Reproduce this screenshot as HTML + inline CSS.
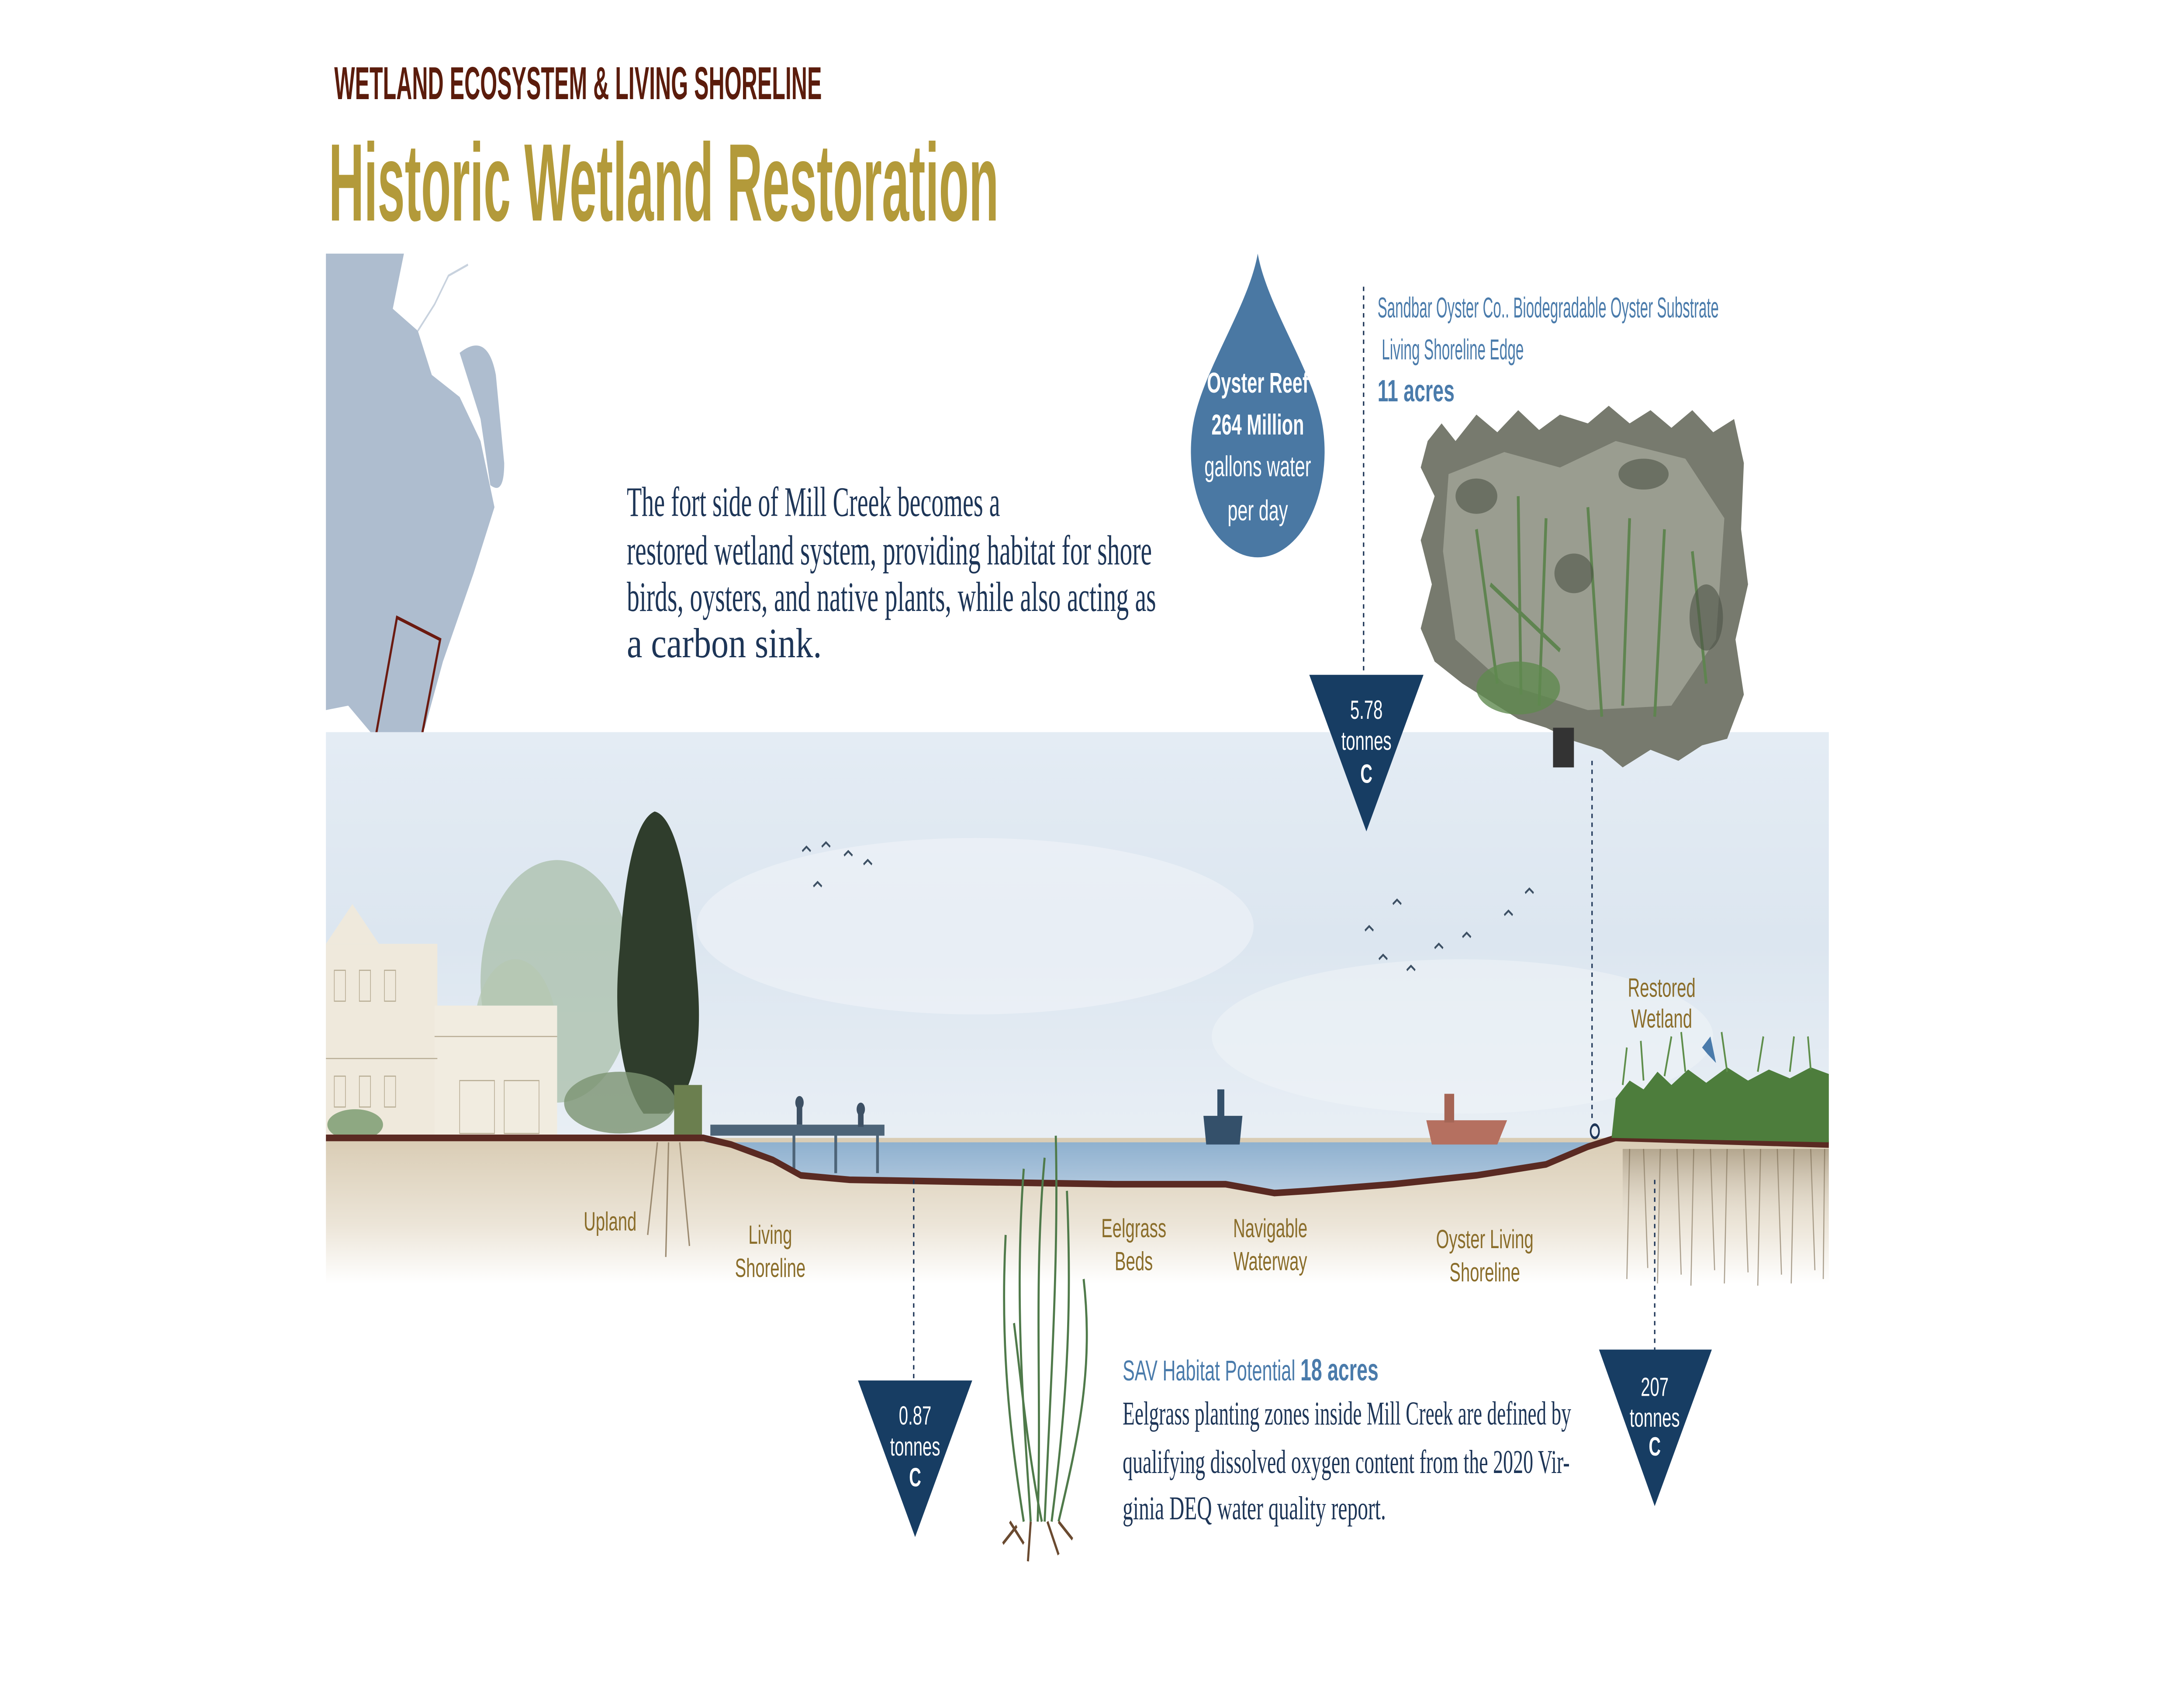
<!DOCTYPE html>
<html><head><meta charset="utf-8"><style>
html,body{margin:0;padding:0;background:#fff;width:100%;height:100%;overflow:hidden;}
svg{display:block;width:100vw;height:100vh;position:absolute;left:0;top:0;}
.cond{font-family:"Liberation Sans Narrow","Liberation Sans",sans-serif;}
.ser{font-family:"Liberation Serif",serif;}
</style></head><body>
<svg viewBox="0 0 1568 765" preserveAspectRatio="none" xmlns="http://www.w3.org/2000/svg">
<defs>
<linearGradient id="sky" x1="0" y1="0" x2="0" y2="1">
<stop offset="0" stop-color="#e4ecf4"/><stop offset="0.5" stop-color="#dce6f0"/><stop offset="1" stop-color="#e9eff5"/>
</linearGradient>
<linearGradient id="soil" x1="0" y1="0" x2="0" y2="1">
<stop offset="0" stop-color="#d9ccb4"/><stop offset="0.6" stop-color="#ece5d8"/><stop offset="1" stop-color="#ffffff"/>
</linearGradient>
<linearGradient id="water" x1="0" y1="0" x2="0" y2="1">
<stop offset="0" stop-color="#8fb1cf"/><stop offset="1" stop-color="#b5cbe0"/>
</linearGradient>
<linearGradient id="roots" x1="0" y1="0" x2="0" y2="1">
<stop offset="0" stop-color="#6a5a40"/><stop offset="1" stop-color="#ffffff" stop-opacity="0"/>
</linearGradient>
</defs>

<text x="240" y="45" class="cond" font-size="21" font-weight="bold" fill="#5b1c0c" textLength="350" lengthAdjust="spacingAndGlyphs">WETLAND ECOSYSTEM &amp; LIVING SHORELINE</text>
<text x="236" y="100" class="cond" font-size="50" font-weight="bold" fill="#b39a3a" textLength="481" lengthAdjust="spacingAndGlyphs">Historic Wetland Restoration</text>

<path d="M234 115 L290 115 L282 140 L300 150 L310 170 L330 180 L345 200 L355 230 L340 260 L318 300 L305 330 L290 345 L270 335 L250 320 L234 322 Z" fill="#aebdcf"/>
<path d="M336 120 L322 125 L312 138 L300 150" fill="none" stroke="#c8d2de" stroke-width="1"/>
<path d="M330 160 Q350 150 356 170 L362 210 Q362 225 352 220 L345 190 Z" fill="#aebdcf"/>
<polygon points="285,280 316,290 300,343 270,333" fill="none" stroke="#6b1a10" stroke-width="1.5"/>

<g class="ser" font-size="19" fill="#1d3557">
<text x="450" y="234" textLength="268" lengthAdjust="spacingAndGlyphs">The fort side of Mill Creek becomes a</text>
<text x="450" y="256" textLength="377" lengthAdjust="spacingAndGlyphs">restored wetland system, providing habitat for shore</text>
<text x="450" y="277" textLength="380" lengthAdjust="spacingAndGlyphs">birds, oysters, and native plants, while also acting as</text>
<text x="450" y="298" textLength="140" lengthAdjust="spacingAndGlyphs">a carbon sink.</text>
</g>

<path d="M903 115 C910 140 945 170 950 195 A48 48 0 1 1 856 195 C861 170 896 140 903 115 Z" fill="#4a78a3"/>
<g class="cond" font-size="13" fill="#fff" text-anchor="middle">
<text x="903" y="178" font-weight="bold">Oyster Reef</text>
<text x="903" y="197" font-weight="bold">264 Million</text>
<text x="903" y="216">gallons water</text>
<text x="903" y="236">per day</text>
</g>

<line x1="979" y1="130" x2="979" y2="306" stroke="#1d3557" stroke-width="1" stroke-dasharray="2,2"/>
<g class="cond" font-size="13" fill="#4a7bab">
<text x="989" y="144" textLength="245" lengthAdjust="spacingAndGlyphs">Sandbar Oyster Co.. Biodegradable Oyster Substrate</text>
<text x="992" y="163" textLength="102" lengthAdjust="spacingAndGlyphs">Living Shoreline Edge</text>
<text x="989" y="182" font-weight="bold" font-size="14">11 acres</text>
</g>

<rect x="234" y="332" width="1079" height="190" fill="url(#sky)"/>
<ellipse cx="700" cy="420" rx="200" ry="40" fill="#f0f4f8" opacity="0.6"/>
<ellipse cx="1050" cy="470" rx="180" ry="35" fill="#eef3f7" opacity="0.6"/>
<rect x="234" y="516" width="1079" height="66" fill="url(#soil)"/>

<!-- oyster substrate -->
<path d="M1025 200 L1035 192 L1045 200 L1060 188 L1075 196 L1090 186 L1105 195 L1120 188 L1140 192 L1155 184 L1170 192 L1185 186 L1200 194 L1215 186 L1230 196 L1245 190 L1252 210 L1250 240 L1255 265 L1246 290 L1252 315 L1240 335 L1222 338 L1205 345 L1185 340 L1165 348 L1150 340 L1130 336 L1110 330 L1090 326 L1070 318 L1050 310 L1030 300 L1020 285 L1028 265 L1020 245 L1030 225 L1020 212 Z" fill="#777a6e"/>
<path d="M1040 215 L1080 205 L1120 212 L1160 200 L1210 208 L1238 235 L1232 290 L1200 320 L1140 322 L1080 310 L1045 290 L1036 250 Z" fill="#9a9d90"/>
<g stroke="#5f8450" stroke-width="2" fill="none">
<path d="M1060 240 L1075 310"/><path d="M1090 225 L1092 315"/><path d="M1110 235 L1105 320"/><path d="M1140 230 L1150 325"/><path d="M1170 235 L1165 320"/><path d="M1195 240 L1188 325"/><path d="M1215 250 L1225 310"/><path d="M1070 265 L1120 295"/>
</g>
<g fill="#4d5246" opacity="0.6">
<ellipse cx="1060" cy="225" rx="15" ry="8"/><ellipse cx="1180" cy="215" rx="18" ry="7"/><ellipse cx="1225" cy="280" rx="12" ry="15"/><ellipse cx="1130" cy="260" rx="14" ry="9"/>
</g>
<ellipse cx="1090" cy="312" rx="30" ry="12" fill="#5f8a4f" opacity="0.8"/>
<rect x="1115" y="330" width="15" height="18" fill="#333"/>

<polygon points="940,306 1022,306 981,377" fill="#173d63"/>
<g class="cond" font-size="12" fill="#fff" text-anchor="middle">
<text x="981" y="326">5.78</text><text x="981" y="340">tonnes</text><text x="981" y="355" font-weight="bold">C</text>
</g>

<ellipse cx="400" cy="445" rx="55" ry="55" fill="#a9bfa9" opacity="0.75"/>
<ellipse cx="370" cy="470" rx="30" ry="35" fill="#b5c8b0" opacity="0.7"/>
<path d="M470 368 C485 370 495 400 500 440 C505 470 500 495 480 505 L462 505 C445 490 440 460 445 430 C448 400 455 372 470 368 Z" fill="#2f3d2c"/>
<rect x="234" y="428" width="80" height="88" fill="#efe9dc"/>
<polygon points="234,428 272,428 253,410" fill="#efe9dc"/>
<rect x="312" y="456" width="88" height="60" fill="#f1ece0"/>
<g stroke="#b8ad95" stroke-width="0.5" fill="none">
<line x1="234" y1="480" x2="314" y2="480"/><line x1="312" y1="470" x2="400" y2="470"/>
<rect x="240" y="440" width="8" height="14"/><rect x="258" y="440" width="8" height="14"/><rect x="276" y="440" width="8" height="14"/>
<rect x="240" y="488" width="8" height="14"/><rect x="258" y="488" width="8" height="14"/><rect x="276" y="488" width="8" height="14"/>
<rect x="330" y="490" width="25" height="24"/><rect x="362" y="490" width="25" height="24"/>
</g>
<ellipse cx="255" cy="510" rx="20" ry="7" fill="#8ea882"/>
<ellipse cx="445" cy="500" rx="40" ry="14" fill="#7b9270" opacity="0.8"/>
<rect x="484" y="492" width="20" height="24" fill="#6b7f4f"/>
<path d="M480 518 L478 570 M488 518 L495 565 M472 518 L465 560" stroke="#9b8a70" stroke-width="1" fill="none"/>

<path d="M505 518 L1150 518 L1140 521 L1110 528 L1060 533 L1000 537 L940 540 L915 541 L880 537 L800 537 L700 536 L610 535 L575 533 L555 526 L525 519 Z" fill="url(#water)"/>
<rect x="510" y="510" width="125" height="5" fill="#4d6478"/>
<line x1="570" y1="512" x2="570" y2="530" stroke="#4d6478" stroke-width="2"/>
<line x1="600" y1="512" x2="600" y2="532" stroke="#4d6478" stroke-width="2"/>
<line x1="630" y1="512" x2="630" y2="532" stroke="#4d6478" stroke-width="2"/>
<circle cx="574" cy="500" r="3" fill="#3d5064"/><rect x="572" y="502" width="4" height="8" fill="#3d5064"/>
<circle cx="618" cy="503" r="3" fill="#3d5064"/><rect x="616" y="505" width="4" height="6" fill="#3d5064"/>
<path d="M864 506 L892 506 L890 519 L866 519 Z" fill="#34506a"/><rect x="874" y="494" width="5" height="13" fill="#34506a"/>
<path d="M1024 508 L1082 508 L1075 519 L1028 519 Z" fill="#b57060"/><rect x="1037" y="496" width="7" height="13" fill="#a56555"/>
<path d="M234 516 L505 516 L525 519 L555 526 L575 533 L610 535 L700 536 L800 537 L880 537 L915 541 L940 540 L1000 537 L1060 533 L1110 528 L1140 520 L1160 516 L1313 519" fill="none" stroke="#5a2a22" stroke-width="3"/>

<!-- wetland -->
<path d="M1157 516 L1160 498 L1170 490 L1180 494 L1190 486 L1200 492 L1212 485 L1225 491 L1240 484 L1255 490 L1270 485 L1285 489 L1300 484 L1313 487 L1313 518 Z" fill="#4d7d3c"/>
<g stroke="#5e8e4a" stroke-width="1.2">
<path d="M1165 492 L1168 475"/><path d="M1180 490 L1178 472"/><path d="M1195 488 L1200 470"/><path d="M1210 486 L1207 468"/><path d="M1240 486 L1236 468"/><path d="M1262 486 L1266 470"/><path d="M1285 486 L1288 470"/><path d="M1300 485 L1298 470"/>
</g>
<g stroke="#7a6a50" stroke-width="0.8" opacity="0.6">
<path d="M1170 521 L1168 580"/><path d="M1180 521 L1183 575"/><path d="M1192 521 L1190 582"/><path d="M1204 521 L1207 578"/><path d="M1216 521 L1214 583"/><path d="M1228 521 L1231 576"/><path d="M1240 521 L1238 582"/><path d="M1252 521 L1255 577"/><path d="M1264 521 L1262 583"/><path d="M1276 521 L1279 578"/><path d="M1288 521 L1286 582"/><path d="M1300 521 L1303 576"/><path d="M1310 521 L1309 580"/>
</g>
<rect x="1165" y="521" width="148" height="40" fill="url(#roots)" opacity="0.35"/>
<path d="M1222 475 L1228 470 L1232 482 L1226 478 Z" fill="#4a7bab"/>

<g stroke="#3d5064" stroke-width="1" fill="none">
<path d="M576 386 l3 -2 l3 2"/><path d="M590 384 l3 -2 l3 2"/><path d="M606 388 l3 -2 l3 2"/><path d="M620 392 l3 -2 l3 2"/><path d="M584 402 l3 -2 l3 2"/>
<path d="M980 422 l3 -2 l3 2"/><path d="M990 435 l3 -2 l3 2"/><path d="M1010 440 l3 -2 l3 2"/><path d="M1030 430 l3 -2 l3 2"/><path d="M1050 425 l3 -2 l3 2"/><path d="M1080 415 l3 -2 l3 2"/><path d="M1095 405 l3 -2 l3 2"/><path d="M1000 410 l3 -2 l3 2"/>
</g>

<line x1="1143" y1="345" x2="1143" y2="509" stroke="#1d3557" stroke-width="1" stroke-dasharray="2,2"/>
<circle cx="1145" cy="513" r="3" fill="none" stroke="#1d3557" stroke-width="1.2"/>
<line x1="1188" y1="535" x2="1188" y2="612" stroke="#1d3557" stroke-width="1" stroke-dasharray="2,2"/>
<line x1="656" y1="535" x2="656" y2="626" stroke="#1d3557" stroke-width="1" stroke-dasharray="2,2"/>

<g class="cond" font-size="12" fill="#8a6d2a" text-anchor="middle">
<text x="438" y="558">Upland</text>
<text x="553" y="564">Living</text><text x="553" y="579">Shoreline</text>
<text x="814" y="561">Eelgrass</text><text x="814" y="576">Beds</text>
<text x="912" y="561">Navigable</text><text x="912" y="576">Waterway</text>
<text x="1066" y="566">Oyster Living</text><text x="1066" y="581">Shoreline</text>
<text x="1193" y="452">Restored</text><text x="1193" y="466">Wetland</text>
</g>

<g stroke="#4f7a4a" stroke-width="1.5" fill="none">
<path d="M740 690 C735 640 728 590 735 530"/><path d="M745 690 C748 630 742 580 750 525"/>
<path d="M750 690 C755 620 760 570 758 515"/><path d="M755 690 C765 640 770 600 766 540"/>
<path d="M735 690 C725 650 718 610 722 560"/><path d="M760 690 C775 650 785 620 778 580"/>
<path d="M748 690 C738 660 732 620 728 600"/>
</g>
<path d="M725 690 L735 700 M740 690 L738 708 M752 690 L760 705 M760 690 L770 698 M730 692 L720 700" stroke="#6a4a30" stroke-width="1.5"/>

<polygon points="616,626 698,626 657,697" fill="#173d63"/>
<g class="cond" font-size="12" fill="#fff" text-anchor="middle">
<text x="657" y="646">0.87</text><text x="657" y="660">tonnes</text><text x="657" y="674" font-weight="bold">C</text>
</g>
<polygon points="1148,612 1229,612 1188,683" fill="#173d63"/>
<g class="cond" font-size="12" fill="#fff" text-anchor="middle">
<text x="1188" y="633">207</text><text x="1188" y="647">tonnes</text><text x="1188" y="660" font-weight="bold">C</text>
</g>

<text x="806" y="626" class="cond" font-size="13" fill="#4a7bab">SAV Habitat Potential <tspan font-weight="bold" font-size="14">18 acres</tspan></text>
<g class="ser" font-size="15" fill="#1d3557">
<text x="806" y="646" textLength="322" lengthAdjust="spacingAndGlyphs">Eelgrass planting zones inside Mill Creek are defined by</text>
<text x="806" y="668" textLength="321" lengthAdjust="spacingAndGlyphs">qualifying dissolved oxygen content from the 2020 Vir-</text>
<text x="806" y="689" textLength="189" lengthAdjust="spacingAndGlyphs">ginia DEQ water quality report.</text>
</g>
</svg>
</body></html>
